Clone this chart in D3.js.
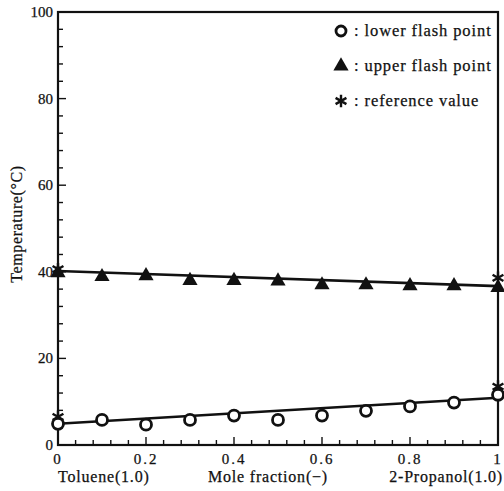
<!DOCTYPE html>
<html>
<head>
<meta charset="utf-8">
<script src="https://cdn.jsdelivr.net/npm/d3@7"></script>
<style>
  html, body { margin: 0; padding: 0; background: #fff; }
  svg text { font-family: "Liberation Serif", "DejaVu Serif", serif; fill: #111; stroke: #111; stroke-width: 0.25; }
</style>
</head>
<body>
<svg id="chart" width="504" height="491"></svg>
<script>
// ── data ──
const moleFraction = [0, 0.1, 0.2, 0.3, 0.4, 0.5, 0.6, 0.7, 0.8, 0.9, 1.0];
const lowerFlash   = [4.9, 5.8, 4.7, 5.8, 6.8, 5.8, 6.8, 7.9, 8.9, 9.8, 11.6];
const upperFlash   = [40.0, 39.1, 39.3, 38.2, 38.2, 38.1, 37.2, 37.2, 37.0, 37.0, 36.6];
const lowerFitX    = [0, 1];
const lowerFitY    = [4.9, 10.9];
const upperFitX    = [0, 1];
const upperFitY    = [40.2, 36.7];
const refX         = [0, 1, 0, 1];
const refY         = [6.5, 13.5, 40.6, 38.6];
const yTicks       = [0, 20, 40, 60, 80, 100];
const xTicks       = [0, 0.2, 0.4, 0.6, 0.8, 1];
const xTickLabels  = ["0", "0.2", "0.4", "0.6", "0.8", "1"];
const legendLabels = ["lower flash point", "upper flash point", "reference value"];

const svg = d3.select("#chart");
const L = 58, R = 498, T = 12, B = 445;

const x = d3.scaleLinear().domain([0, 1]).range([L, R]);
const y = d3.scaleLinear().domain([0, 100]).range([B, T]);

// frame
svg.append("rect")
  .attr("x", L).attr("y", T).attr("width", R - L).attr("height", B - T)
  .attr("fill", "none").attr("stroke", "#111").attr("stroke-width", 2.2);

// y ticks (inward, minor every 4)
const gy = svg.append("g");
gy.selectAll("line")
  .data(d3.range(0, 101, 4))
  .join("line")
    .attr("x1", L).attr("x2", d => L + (d % 20 === 0 ? 8 : 5))
    .attr("y1", d => y(d)).attr("y2", d => y(d))
    .attr("stroke", "#111").attr("stroke-width", 1.4);
gy.selectAll("text")
  .data(yTicks)
  .join("text")
    .attr("x", L - 5).attr("y", d => y(d) + 5)
    .attr("text-anchor", "end").attr("font-size", 15)
    .text(d => d);

// x ticks (inward, minor every 0.04)
const gx = svg.append("g");
gx.selectAll("line")
  .data(d3.range(0, 26).map(i => i * 0.04))
  .join("line")
    .attr("x1", d => x(d)).attr("x2", d => x(d))
    .attr("y1", B).attr("y2", (d, i) => B - (i % 5 === 0 ? 8 : 5))
    .attr("stroke", "#111").attr("stroke-width", 1.4);
gx.selectAll("text")
  .data(xTicks)
  .join("text")
    .attr("x", d => x(d)).attr("y", B + 19)
    .attr("text-anchor", "middle").attr("font-size", 15)
    .attr("letter-spacing", 2)
    .text((d, i) => xTickLabels[i]);

// axis titles
svg.append("text")
  .attr("transform", `translate(22, 224) rotate(-90)`)
  .attr("text-anchor", "middle").attr("font-size", 16)
  .attr("letter-spacing", 0.6)
  .text("Temperature(°C)");
svg.append("text").attr("x", 58).attr("y", 482).attr("font-size", 16).attr("letter-spacing", 0.8).text("Toluene(1.0)");
svg.append("text").attr("x", 208).attr("y", 482).attr("font-size", 16).attr("letter-spacing", 0.8).text("Mole fraction(−)");
svg.append("text").attr("x", 503).attr("y", 482).attr("text-anchor", "end").attr("font-size", 16).attr("letter-spacing", 0.8).text("2-Propanol(1.0)");

// fit lines
const line = d3.line().x(d => x(d[0])).y(d => y(d[1]));
[[lowerFitX, lowerFitY], [upperFitX, upperFitY]].forEach(([xs, ys]) => {
  svg.append("path")
    .datum(xs.map((v, i) => [v, ys[i]]))
    .attr("d", line)
    .attr("fill", "none").attr("stroke", "#111").attr("stroke-width", 2.6);
});

const tri = d3.symbol().type(d3.symbolTriangle).size(100);
const star = d3.symbol().type(d3.symbolAsterisk).size(110);

// reference values
svg.selectAll("path.ref")
  .data(refX.map((v, i) => [v, refY[i]]))
  .join("path")
    .attr("class", "ref")
    .attr("transform", d => `translate(${x(d[0])},${y(d[1])})`)
    .attr("d", star)
    .attr("fill", "none").attr("stroke", "#111").attr("stroke-width", 2.4);

// upper flash point
svg.selectAll("path.up")
  .data(moleFraction.map((v, i) => [v, upperFlash[i]]))
  .join("path")
    .attr("class", "up")
    .attr("transform", d => `translate(${x(d[0])},${y(d[1]) + 1})`)
    .attr("d", tri)
    .attr("fill", "#111");

// lower flash point
svg.selectAll("circle.low")
  .data(moleFraction.map((v, i) => [v, lowerFlash[i]]))
  .join("circle")
    .attr("class", "low")
    .attr("cx", d => x(d[0])).attr("cy", d => y(d[1]))
    .attr("r", 5.5)
    .attr("fill", "#fff").attr("stroke", "#111").attr("stroke-width", 2.8);

// legend
const lg = svg.append("g").attr("transform", "translate(341, 31)");
const rows = lg.selectAll("g").data(legendLabels).join("g")
  .attr("transform", (d, i) => `translate(0, ${i * 35})`);
rows.each(function(d, i) {
  const g = d3.select(this);
  if (i === 0) g.append("circle").attr("r", 5).attr("fill", "#fff").attr("stroke", "#111").attr("stroke-width", 2.8);
  if (i === 1) g.append("path").attr("d", tri).attr("fill", "#111");
  if (i === 2) g.append("path").attr("d", star).attr("fill", "none").attr("stroke", "#111").attr("stroke-width", 2.4);
});
rows.append("text")
  .attr("x", 13).attr("y", 5).attr("font-size", 16.5)
  .attr("letter-spacing", 0.9)
  .text(d => ":  " + d);
</script>
</body>
</html>
